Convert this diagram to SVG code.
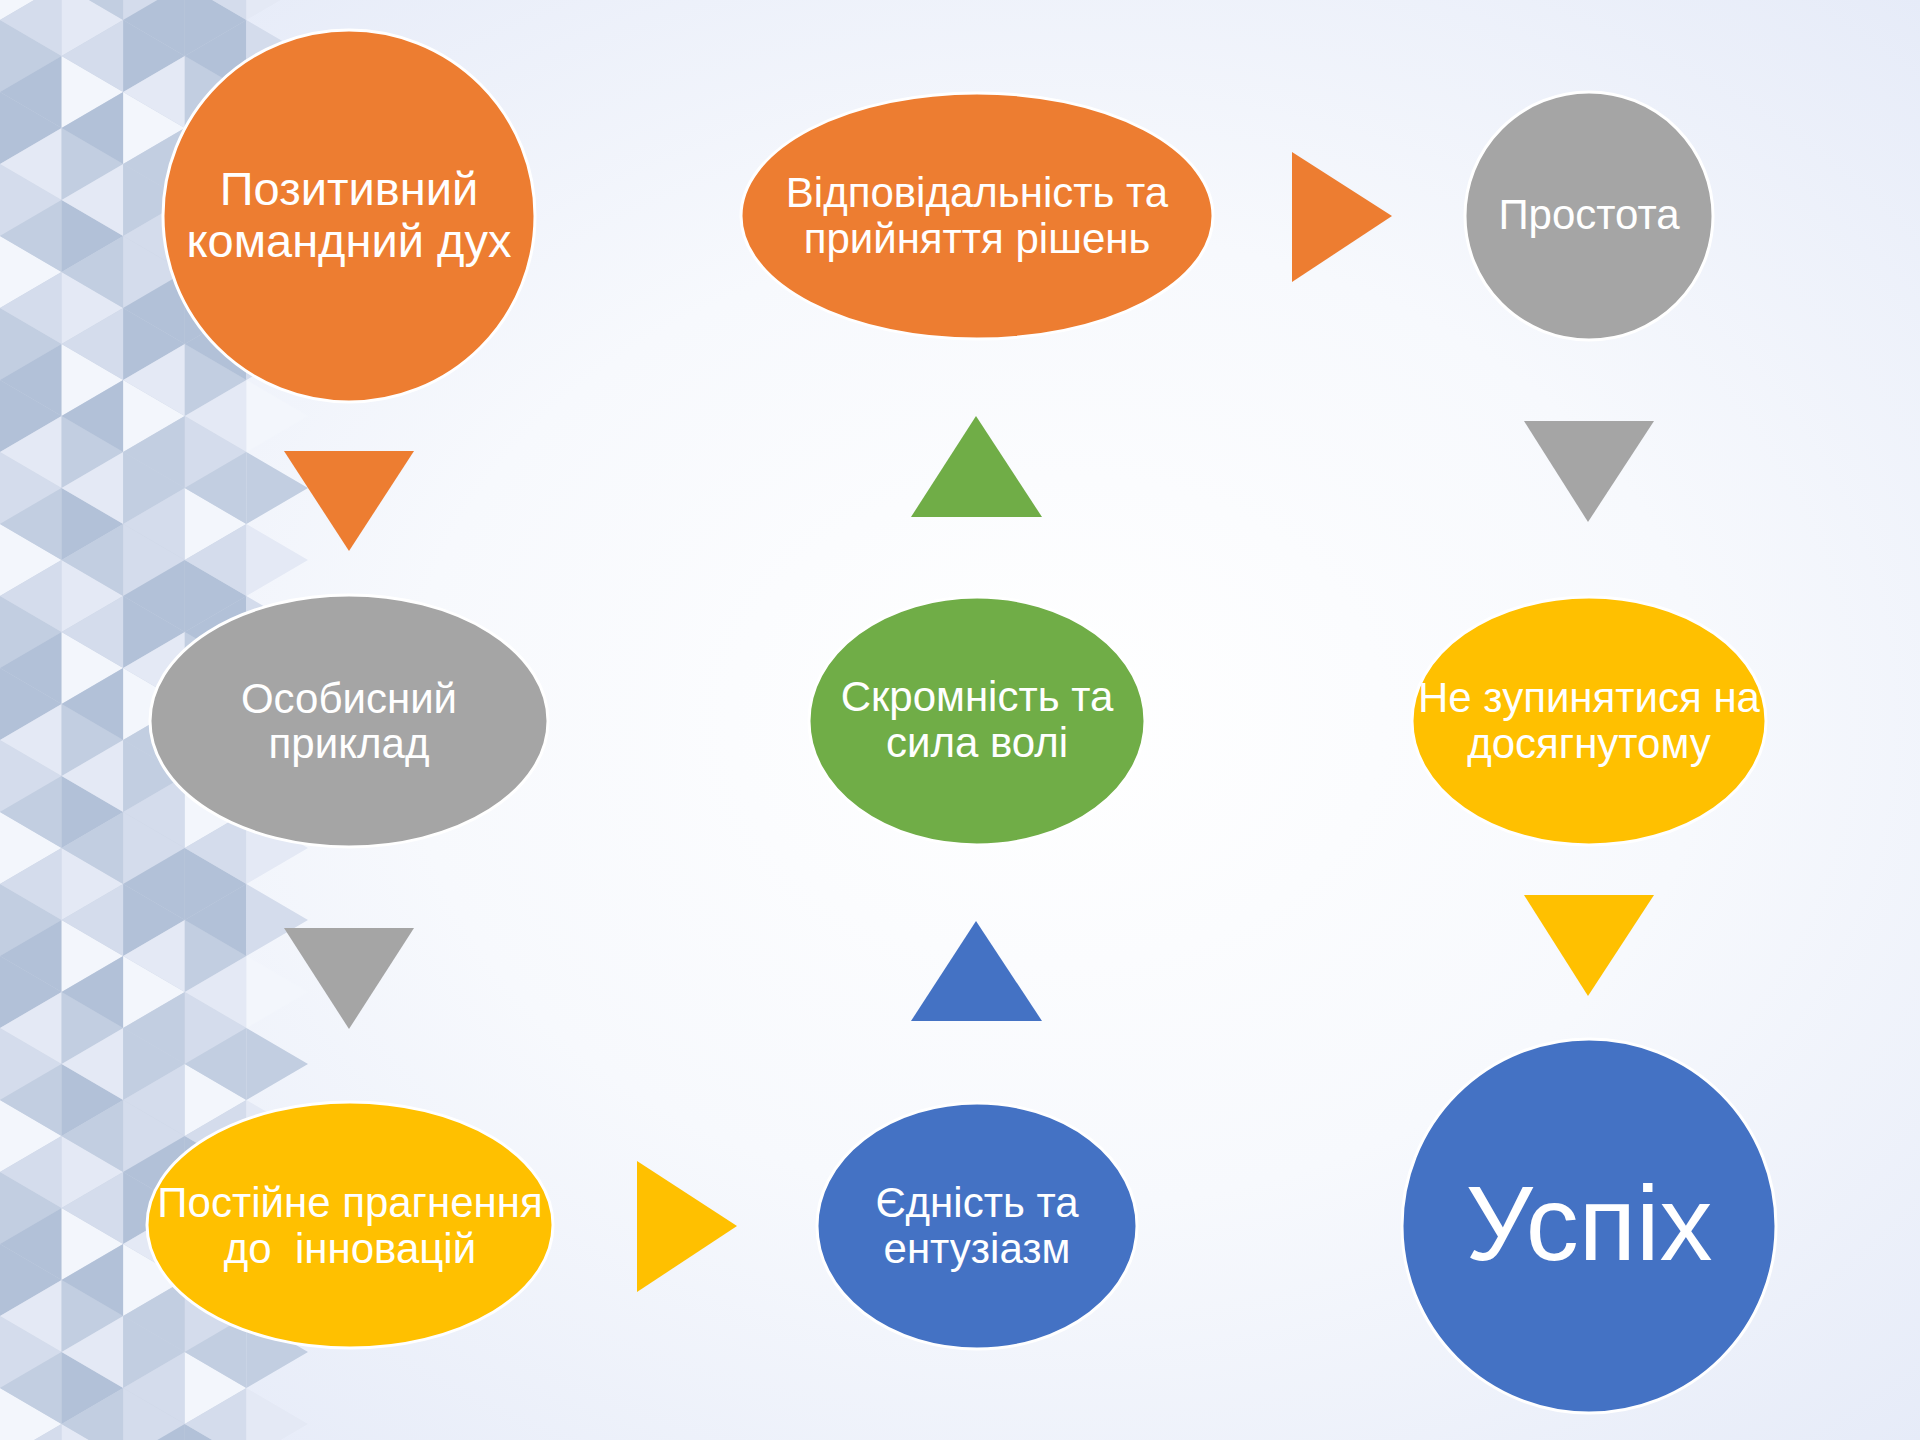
<svg xmlns="http://www.w3.org/2000/svg" width="1920" height="1440" viewBox="0 0 1920 1440">
<defs>
<radialGradient id="bg" cx="0.55" cy="0.5" r="0.75">
<stop offset="0" stop-color="#ffffff"/>
<stop offset="0.45" stop-color="#f7f9fd"/>
<stop offset="1" stop-color="#e2e8f7"/>
</radialGradient>
<pattern id="tri" patternUnits="userSpaceOnUse" x="0" y="20" width="308" height="288">
<rect x="0" y="0" width="246.4" height="288" fill="#ccd6e7"/>
<polygon class="m" points="0,0 0,72 61.6,36"/>
<polygon class="d" points="0,72 0,144 61.6,108"/>
<polygon class="l" points="0,144 0,216 61.6,180"/>
<polygon class="w" points="0,216 0,288 61.6,252"/>
<polygon class="d" points="61.6,36 61.6,108 0,72"/>
<polygon class="p" points="61.6,108 61.6,180 0,144"/>
<polygon class="m" points="61.6,180 61.6,252 0,216"/>
<polygon class="l" points="61.6,252 61.6,324 0,288"/>
<polygon class="l" points="61.6,-36 61.6,36 0,0"/>
<polygon class="w" points="61.6,36 61.6,108 123.2,72"/>
<polygon class="m" points="61.6,108 61.6,180 123.2,144"/>
<polygon class="d" points="61.6,180 61.6,252 123.2,216"/>
<polygon class="p" points="61.6,252 61.6,324 123.2,288"/>
<polygon class="p" points="61.6,-36 61.6,36 123.2,0"/>
<polygon class="l" points="123.2,0 123.2,72 61.6,36"/>
<polygon class="d" points="123.2,72 123.2,144 61.6,108"/>
<polygon class="p" points="123.2,144 123.2,216 61.6,180"/>
<polygon class="m" points="123.2,216 123.2,288 61.6,252"/>
<polygon class="d" points="123.2,0 123.2,72 184.8,36"/>
<polygon class="w" points="123.2,72 123.2,144 184.8,108"/>
<polygon class="m" points="123.2,144 123.2,216 184.8,180"/>
<polygon class="l" points="123.2,216 123.2,288 184.8,252"/>
<polygon class="p" points="184.8,36 184.8,108 123.2,72"/>
<polygon class="m" points="184.8,108 184.8,180 123.2,144"/>
<polygon class="l" points="184.8,180 184.8,252 123.2,216"/>
<polygon class="d" points="184.8,252 184.8,324 123.2,288"/>
<polygon class="d" points="184.8,-36 184.8,36 123.2,0"/>
<polygon class="m" points="184.8,36 184.8,108 246.4,72"/>
<polygon class="l" points="184.8,108 184.8,180 246.4,144"/>
<polygon class="w" points="184.8,180 184.8,252 246.4,216"/>
<polygon class="d" points="184.8,252 184.8,324 246.4,288"/>
<polygon class="d" points="184.8,-36 184.8,36 246.4,0"/>
<polygon class="d" points="246.4,0 246.4,72 184.8,36"/>
<polygon class="p" points="246.4,72 246.4,144 184.8,108"/>
<polygon class="m" points="246.4,144 246.4,216 184.8,180"/>
<polygon class="l" points="246.4,216 246.4,288 184.8,252"/>
<polygon class="l" points="246.4,0 246.4,72 308,36"/>
<polygon class="w" points="246.4,72 246.4,144 308,108"/>
<polygon class="m" points="246.4,144 246.4,216 308,180"/>
<polygon class="p" points="246.4,216 246.4,288 308,252"/>
</pattern>
<style>
.d{fill:#b2c1d8}
.m{fill:#c2cee1}
.l{fill:#d4dcec}
.p{fill:#e4e9f5}
.w{fill:#f3f6fc}
.node{stroke:#ffffff;stroke-width:3}
.lbl{font-family:"Liberation Sans",Arial,sans-serif;fill:#ffffff;text-anchor:middle;font-size:42px}
.orange{fill:#ed7d31}
.gray{fill:#a5a5a5}
.yellow{fill:#ffc000}
.blue{fill:#4472c4}
.green{fill:#70ad47}
</style>
</defs>
<rect x="0" y="0" width="1920" height="1440" fill="url(#bg)"/>
<rect x="0" y="0" width="308" height="1440" fill="url(#tri)"/>

<g id="connectors">
<polygon class="orange" points="284,451 414,451 349,551"/>
<polygon class="gray" points="284,928 414,928 349,1029"/>
<polygon class="yellow" points="637,1161 737,1226 637,1292"/>
<polygon class="blue" points="976,921 1042,1021 911,1021"/>
<polygon class="green" points="976,416 1042,517 911,517"/>
<polygon class="orange" points="1292,152 1392,216 1292,282"/>
<polygon class="gray" points="1524,421 1654,421 1588,522"/>
<polygon class="yellow" points="1524,895 1654,895 1588,996"/>
</g>

<g id="node-pozytyvnyi">
<circle class="node orange" cx="349" cy="216" r="186"/>
<text class="lbl" x="349" y="205" style="font-size:47px">Позитивний</text>
<text class="lbl" x="349" y="257" style="font-size:47px">командний дух</text>
</g>
<g id="node-vidpovidalnist">
<ellipse class="node orange" cx="977" cy="216" rx="236" ry="123"/>
<text class="lbl" x="977" y="207">Відповідальність та</text>
<text class="lbl" x="977" y="253">прийняття рішень</text>
</g>
<g id="node-prostota">
<circle class="node gray" cx="1589" cy="216" r="124"/>
<text class="lbl" x="1589" y="229">Простота</text>
</g>
<g id="node-osobystyi">
<ellipse class="node gray" cx="349" cy="721" rx="199" ry="126"/>
<text class="lbl" x="349" y="713">Особисний</text>
<text class="lbl" x="349" y="758">приклад</text>
</g>
<g id="node-skromnist">
<ellipse class="node green" cx="977" cy="721" rx="168" ry="124"/>
<text class="lbl" x="977" y="711">Скромність та</text>
<text class="lbl" x="977" y="757">сила волі</text>
</g>
<g id="node-ne-zupynyatysya">
<ellipse class="node yellow" cx="1589" cy="721" rx="177" ry="124"/>
<text class="lbl" x="1589" y="712">Не зупинятися на</text>
<text class="lbl" x="1589" y="758">досягнутому</text>
</g>
<g id="node-postiine">
<ellipse class="node yellow" cx="350" cy="1225" rx="203" ry="123"/>
<text class="lbl" x="350" y="1217">Постійне прагнення</text>
<text class="lbl" x="350" y="1263" xml:space="preserve">до  інновацій</text>
</g>
<g id="node-yednist">
<ellipse class="node blue" cx="977" cy="1226" rx="160" ry="123"/>
<text class="lbl" x="977" y="1217">Єдність та</text>
<text class="lbl" x="977" y="1263">ентузіазм</text>
</g>
<g id="node-uspikh">
<circle class="node blue" cx="1589" cy="1226" r="187"/>
<text class="lbl" x="1589" y="1260" style="font-size:106px">Успіх</text>
</g>
</svg>
